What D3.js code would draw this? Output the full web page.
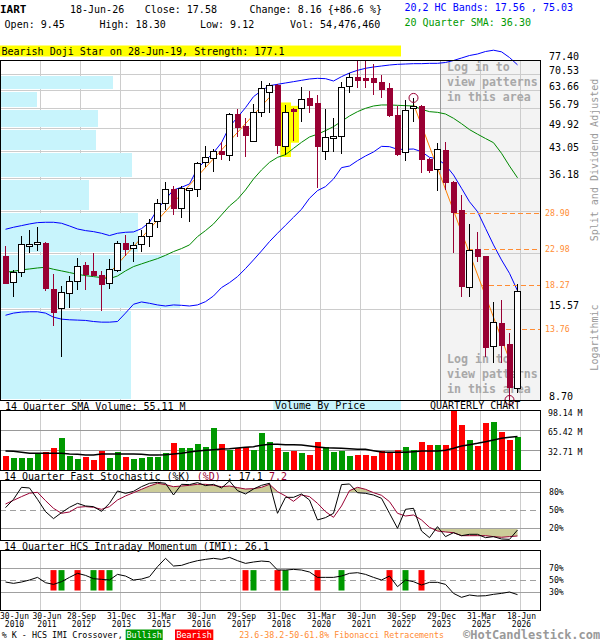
<!DOCTYPE html>
<html><head><meta charset="utf-8">
<script src="https://cdn.jsdelivr.net/npm/d3@7"></script>
<style>body{margin:0;background:#fff}svg{display:block;font-family:'DejaVu Sans Mono','Liberation Mono',monospace}</style>
</head><body><svg id="c" width="600" height="640"></svg>
<script>
const quarters=["Jun-10","Sep-10","Dec-10","Mar-11","Jun-11","Sep-11","Dec-11","Mar-12","Jun-12","Sep-12","Dec-12","Mar-13","Jun-13","Sep-13","Dec-13","Mar-14","Jun-14","Sep-14","Dec-14","Mar-15","Jun-15","Sep-15","Dec-15","Mar-16","Jun-16","Sep-16","Dec-16","Mar-17","Jun-17","Sep-17","Dec-17","Mar-18","Jun-18","Sep-18","Dec-18","Mar-19","Jun-19","Sep-19","Dec-19","Mar-20","Jun-20","Sep-20","Dec-20","Mar-21","Jun-21","Sep-21","Dec-21","Mar-22","Jun-22","Sep-22","Dec-22","Mar-23","Jun-23","Sep-23","Dec-23","Mar-24","Jun-24","Sep-24","Dec-24","Mar-25","Jun-25","Sep-25","Dec-25","Mar-26","Jun-26"];
const open=[21.97,18.50,19.86,23.42,23.83,23.88,17.77,15.69,17.28,18.70,20.73,19.95,19.44,18.42,20.08,23.88,23.03,23.68,24.87,27.39,30.81,33.72,29.84,33.57,33.72,40.09,41.40,43.13,42.12,54.70,50.65,46.08,55.29,62.88,65.92,44.72,56.37,56.73,60.51,58.59,42.94,47.09,47.30,65.21,69.24,68.51,68.80,67.05,64.52,54.36,42.94,56.73,57.59,40.96,38.33,43.41,35.42,29.52,18.04,22.98,21.97,12.26,14.25,12.45,9.45];
const high=[23.42,20.08,24.98,25.96,26.41,24.00,19.56,18.11,19.31,21.69,21.18,22.44,19.95,21.50,24.19,25.14,24.09,25.96,27.80,31.62,35.42,34.45,34.45,34.05,40.26,44.53,43.59,45.79,55.18,56.37,53.21,58.34,67.63,66.63,66.20,57.97,56.73,65.21,63.42,61.82,56.37,53.21,67.34,71.05,77.40,77.00,75.44,70.29,66.63,57.71,59.86,60.66,57.80,41.20,45.49,45.79,35.60,32.51,26.98,25.57,22.00,16.37,16.55,13.37,18.30];
const low=[18.35,16.84,19.15,22.35,22.73,17.54,14.04,11.50,15.75,17.65,17.65,19.31,15.45,17.81,19.82,22.01,21.18,22.59,23.32,26.24,29.52,28.59,28.10,27.39,32.03,38.83,37.76,40.70,40.53,47.09,41.58,45.79,53.55,55.18,42.30,42.03,46.08,52.08,54.94,34.08,40.70,42.94,42.21,62.48,64.52,64.52,61.82,60.76,53.55,41.85,40.53,52.08,37.36,37.36,33.43,33.57,22.35,16.91,16.84,21.09,11.50,11.07,11.02,8.70,9.12];
const close=[18.50,19.78,23.73,23.73,23.98,17.92,15.35,17.39,18.70,20.56,19.52,19.44,18.30,20.16,23.88,22.98,23.52,24.98,27.10,30.81,33.72,29.84,34.01,33.94,39.84,41.40,43.22,42.21,54.70,50.43,47.80,55.53,64.52,65.92,44.82,55.53,55.89,60.12,57.97,44.53,47.09,47.50,64.94,69.24,68.07,68.07,66.91,64.24,54.12,42.30,56.13,57.59,40.96,38.17,43.59,35.42,29.21,18.11,22.83,22.01,12.26,14.34,12.40,9.42,17.58];
const volumeM=[23.76,20.52,20.52,20.52,28.07,30.22,36.69,52.85,23.76,18.90,22.14,17.29,31.84,20.52,30.22,22.14,18.90,20.52,22.14,22.14,28.60,44.77,36.69,36.69,43.16,38.31,69.02,43.16,33.46,36.69,38.31,33.46,60.94,46.39,36.69,30.22,31.84,29.14,25.37,46.39,37.77,30.22,31.84,23.76,25.37,25.37,23.76,31.84,29.14,33.46,38.31,33.46,46.39,41.54,41.54,41.54,98.14,73.87,49.62,39.92,77.11,78.72,62.56,49.62,54.48];
const volSMA=[31.84,31.30,29.68,28.07,28.07,28.07,28.07,28.07,26.99,26.45,25.37,25.37,26.99,26.99,26.99,26.99,26.99,26.45,25.37,25.37,25.91,26.99,28.07,30.22,31.84,32.92,34.00,35.07,35.61,36.69,37.77,38.84,41.00,42.62,42.62,42.08,42.08,41.54,39.92,38.31,37.23,36.69,36.15,35.61,34.53,34.53,32.38,30.22,29.68,29.68,29.68,30.76,31.84,31.84,31.84,32.92,36.15,39.92,42.08,44.23,46.93,49.62,52.32,53.93,55.11];
const upperBand=[26.07,26.41,26.69,26.98,27.21,27.27,27.27,27.10,26.63,26.12,25.85,25.68,25.41,25.04,25.41,25.57,25.63,26.18,27.27,29.65,31.62,33.57,34.15,34.89,38.58,40.53,42.66,45.49,50.43,53.55,56.98,61.15,63.56,65.63,66.20,66.77,67.34,67.92,68.51,68.80,68.65,67.63,69.54,71.20,72.43,73.37,74.00,74.47,74.95,75.27,75.43,75.60,75.60,75.76,75.76,76.17,77.15,78.40,79.67,80.44,81.74,82.43,81.58,78.65,75.03];
const sma20=[19.78,19.90,20.08,20.20,20.33,20.42,20.16,19.95,19.74,19.52,19.35,19.23,19.11,18.98,19.31,19.95,20.51,20.87,21.23,21.59,22.05,22.59,23.03,23.58,24.87,25.85,26.98,28.59,30.29,31.62,33.57,36.02,38.17,40.09,41.40,42.12,43.86,45.59,47.19,48.05,49.15,50.43,52.19,54.01,55.53,56.73,57.59,57.97,57.97,57.84,57.71,57.59,56.37,55.53,55.29,54.70,53.21,51.40,49.48,48.05,46.73,45.49,42.49,39.15,36.30];
const lowerBand=[15.00,15.21,15.31,15.34,15.34,15.21,14.82,14.63,14.57,14.54,14.51,14.41,14.35,14.35,14.41,15.21,16.10,16.34,16.20,16.03,15.92,16.03,15.99,15.92,16.03,16.37,16.98,17.92,18.50,19.23,20.25,21.41,22.68,24.09,25.41,26.75,28.16,29.65,31.82,33.43,34.30,36.02,38.75,39.15,40.53,41.76,42.85,44.43,44.34,43.59,43.59,43.68,42.94,41.40,40.96,39.41,36.96,33.94,31.12,29.21,26.24,23.58,21.41,19.64,17.56];
const stochK=[54.4,68.3,88.3,87.2,68.3,47.8,36.1,46.1,55.0,61.6,57.2,56.1,48.3,61.6,82.2,78.3,81.6,89.4,95.0,96.6,95.0,75.5,93.3,92.8,96.1,91.1,93.3,87.2,98.9,82.8,77.2,85.5,91.6,95.0,45.0,71.6,71.6,77.2,67.2,33.9,37.8,45.0,92.8,93.9,79.4,78.3,75.5,70.0,45.0,20.0,51.6,53.3,15.5,4.4,22.8,6.1,12.7,7.7,10.0,10.0,4.4,6.1,2.2,1.6,17.1];
const stochD=[60.5,66.6,72.8,78.5,80.0,66.1,53.3,45.0,47.2,55.0,56.1,55.0,51.6,56.1,67.2,73.9,79.4,85.0,90.5,95.0,92.8,89.4,90.5,91.6,93.3,93.3,91.6,89.4,90.5,87.8,85.5,86.1,88.3,93.3,81.1,73.9,65.0,75.5,72.8,61.6,47.8,38.3,57.2,82.8,88.3,85.0,79.4,75.0,64.4,45.0,40.5,42.2,33.9,21.6,15.5,13.9,12.7,7.7,7.7,7.7,7.7,6.1,5.0,6.1,7.2];
const imi=[47.1,44.9,47.1,50.5,54.9,46.0,43.2,47.7,54.9,61.6,58.2,52.7,51.6,50.5,59.9,57.1,50.5,52.1,56.0,72.7,86.6,73.8,74.9,79.3,82.7,84.9,86.6,84.9,88.2,82.7,78.2,80.5,82.1,81.0,67.1,67.1,68.2,67.1,63.8,54.9,54.9,54.9,57.1,61.6,62.7,59.9,54.9,50.5,57.1,39.4,50.5,47.7,42.1,46.6,46.6,43.2,28.2,21.6,25.5,23.8,24.3,26.6,28.2,30.5,26.1];
const bearishCross=[6,9,12,30,34,39,48,52];
const bullishCross=[7,11,13,31,35,42,50];
const priceGrid=[8.70,15.57,22.44,29.31,36.18,43.05,49.92,56.79,63.66,70.53,77.40];
const priceLabels=["8.70","15.57","","","36.18","43.05","49.92","56.79","63.66","70.53","77.40"];
const vbpVolume=[650,895,683,438,655,475,483,178,558,0];
const volTicks=[32.71,65.42,98.14];
const stochTicks=[20,50,80];
const imiTicks=[30,50,70];
const fibLevels=[28.90,22.98,18.27,13.76];
const fibLine={i0:51,p0:58.34,i1:63,p1:11.26};
const trendLine={i0:12,p0:18.61,i1:33,p1:60.91};
const highMark={i:51,p:60.66}, lowMark={i:63,p:8.70};
const patternIdx=[35,36];
const dateTickIdx=[0,4,9,14,19,24,29,34,39,44,49,54,59,64];
const dateTickDay=["30-Jun","30-Jun","28-Sep","31-Dec","31-Mar","30-Jun","29-Sep","31-Dec","31-Mar","30-Jun","30-Sep","29-Dec","31-Mar","18-Jun"];
const dateTickYear=["2010","2011","2012","2013","2015","2016","2017","2018","2020","2021","2022","2023","2025","2026"];

const svg=d3.select('#c');
const xs=d3.scalePoint().domain(quarters).range([4.7,516.7]);
const X=i=>Math.round(xs(quarters[i]));
const yP=d3.scaleLog().domain([8.70,77.40]).range([400,60]);
const yV=d3.scaleLinear().domain([0,98.14]).range([470.7,410]);
const yS=d3.scaleLinear().domain([0,100]).range([540.3,480.3]);
const yI=d3.scaleLinear().domain([0,100]).range([610.3,550.3]);
const xVBP=d3.scaleLinear().domain([0,2700]).range([0,540]);
const gridX=dateTickIdx.slice(1).map(i=>Math.round(xs(quarters[i])+3.3)+0.5);
const BEAR='#990033', ORANGE='#ff8000';

function T(x,y,s,o={}){return svg.append('text').attr('x',x).attr('y',y).attr('dominant-baseline','central')
 .attr('font-size',o.size||10).attr('fill',o.fill||'#000').attr('font-weight',o.bold?'bold':null)
 .attr('text-anchor',o.anchor||'start').attr('transform',o.rot?`rotate(-90 ${x} ${y})`:null).text(s);}
function hline(y,x0,x1,col,dash){svg.append('line').attr('x1',x0).attr('x2',x1).attr('y1',Math.round(y)+0.5).attr('y2',Math.round(y)+0.5)
 .attr('stroke',col).attr('stroke-dasharray',dash||null).attr('shape-rendering','crispEdges');}
function vgrid(y0,y1){gridX.forEach(x=>svg.append('line').attr('x1',x).attr('x2',x).attr('y1',y0).attr('y2',y1).attr('stroke','#cccccc').attr('shape-rendering','crispEdges'));}
function frame(y0,y1){svg.append('rect').attr('x',0.5).attr('y',y0+0.5).attr('width',540).attr('height',y1-y0).attr('fill','none').attr('stroke','#000').attr('shape-rendering','crispEdges');}

// ---------- header ----------
T(0,9,"IART",{bold:true,size:11});
T(70,9,"18-Jun-26");
T(144.7,9,"Close: 17.58");
T(249.5,9,"Change: 8.16 {+86.6 %}");
T(4.6,24,"Open: 9.45");
T(99.5,24,"High: 18.30");
T(200,24,"Low: 9.12");
T(290,24,"Vol: 54,476,460");
T(404.5,7,"20,2 HC Bands: 17.56 , 75.03",{fill:'#0000ff'});
T(404.5,22.5,"20 Quarter SMA: 36.30",{fill:'#009900'});
svg.append('rect').attr('x',0).attr('y',45.5).attr('width',401).attr('height',11).attr('fill','#ffff00');
T(1.5,51,"Bearish Doji Star on 28-Jun-19, Strength: 177.1");

// ---------- main price panel ----------
svg.append('rect').attr('x',440).attr('y',60).attr('width',100).attr('height',340).attr('fill','#f3f3f3');
vgrid(60,400);
priceGrid.forEach(p=>{const y=yP(p); if(y>61&&y<399) hline(y,0,540,'#cccccc');});
// volume by price
vbpVolume.forEach((v,k)=>{ if(v<=0) return; const yt=Math.round(yP(priceGrid[k+1]))+2, yb=Math.round(yP(priceGrid[k]))-1;
 svg.append('rect').attr('x',1).attr('y',yt).attr('width',xVBP(v)).attr('height',yb-yt).attr('fill','#c8f4fc').attr('shape-rendering','crispEdges');});
svg.append('line').attr('x1',440.5).attr('x2',440.5).attr('y1',60).attr('y2',400).attr('stroke','#999').attr('shape-rendering','crispEdges');
["Log in to","view patterns","in this area"].forEach((s,k)=>{T(447,66.7+15*k,s,{bold:true,size:11.6,fill:'#a8a8a8'});T(447,359+15*k,s,{bold:true,size:11.6,fill:'#a8a8a8'});});
// pattern highlight
patternIdx.forEach(i=>{const cx=X(i)+0.5;svg.append('rect').attr('x',cx-5).attr('width',10.5).attr('y',yP(high[i])-2.5).attr('height',yP(low[i])-yP(high[i])+4.5).attr('fill','#ffff00');});
// bands
const lineP=d3.line().x((d,i)=>X(i)+0.5).y(d=>yP(d));
svg.append('path').datum(upperBand).attr('d',lineP).attr('fill','none').attr('stroke','#0000ff').attr('stroke-width',1);
svg.append('path').datum(lowerBand).attr('d',lineP).attr('fill','none').attr('stroke','#0000ff').attr('stroke-width',1);
svg.append('path').datum(sma20).attr('d',lineP).attr('fill','none').attr('stroke','#008800').attr('stroke-width',1);
// trend line & fib
svg.append('line').attr('x1',X(trendLine.i0)+0.5).attr('y1',yP(trendLine.p0)).attr('x2',X(trendLine.i1)+0.5).attr('y2',yP(trendLine.p1)).attr('stroke',ORANGE);
const fx0=X(fibLine.i0)+0.5, fy0=yP(fibLine.p0), fx1=X(fibLine.i1)+0.5, fy1=yP(fibLine.p1);
svg.append('line').attr('x1',fx0).attr('y1',fy0).attr('x2',fx1).attr('y2',fy1).attr('stroke',ORANGE);
fibLevels.forEach(L=>{const y=yP(L); const xc=fx0+(y-fy0)/(fy1-fy0)*(fx1-fx0);
 hline(y,xc,540,'#ff8c33','5,3'); T(545,y,L.toFixed(2),{size:8.2,fill:'#ff8c33'});});
// candles
quarters.forEach((q,i)=>{const cx=X(i), bull=close[i]>=open[i], col=bull?'#000':BEAR;
 svg.append('line').attr('x1',cx+0.5).attr('x2',cx+0.5).attr('y1',yP(high[i])).attr('y2',yP(low[i])).attr('stroke',col).attr('shape-rendering','crispEdges');
 let yt=yP(Math.max(open[i],close[i])), yb=yP(Math.min(open[i],close[i]));
 if(yb-yt<2){const m=(yt+yb)/2;yt=m-1;yb=m+1;}
 if(bull) svg.append('rect').attr('x',cx-2.5).attr('y',Math.round(yt)+0.5).attr('width',6).attr('height',Math.max(1,Math.round(yb-yt))).attr('fill','#fff').attr('stroke','#000').attr('shape-rendering','crispEdges');
 else svg.append('rect').attr('x',cx-2).attr('y',Math.round(yt)).attr('width',5).attr('height',Math.max(1,Math.round(yb-yt))).attr('fill',BEAR).attr('stroke',BEAR).attr('shape-rendering','crispEdges');
});
[highMark,lowMark].forEach(m=>svg.append('circle').attr('cx',X(m.i)+0.5).attr('cy',yP(m.p)).attr('r',4.5).attr('fill','none').attr('stroke',BEAR));
frame(60,400);
// price labels
priceGrid.forEach((p,k)=>{ if(priceLabels[k]) T(549,yP(p)-3.5,priceLabels[k]);});
T(594,160,"Split and Dividend Adjusted",{rot:true,anchor:'middle',fill:'#999'});
T(594,337.5,"Logarithmic",{rot:true,anchor:'middle',fill:'#999'});

// ---------- volume ----------
T(5,406,"14 Quarter SMA Volume: 55.11 M");
svg.append('rect').attr('x',273.3).attr('y',401).attr('width',127.7).attr('height',9).attr('fill','#c8f4fc');
T(275,405.5,"Volume By Price");
T(430,405.5,"QUARTERLY CHART");
vgrid(410,470);
volTicks.slice(0,2).forEach(v=>hline(yV(v),0,540,'#999'));
volumeM.forEach((v,i)=>{const cx=X(i);svg.append('rect').attr('x',cx-2.5).attr('y',yV(v)).attr('width',6).attr('height',470.7-yV(v))
 .attr('fill',close[i]>=open[i]?'#009900':'#ff0000').attr('shape-rendering','crispEdges');});
svg.append('path').datum(volSMA).attr('d',d3.line().x((d,i)=>X(i)+0.5).y(d=>yV(d))).attr('fill','none').attr('stroke','#000').attr('stroke-width',1.5);
frame(410,470);
volTicks.forEach(v=>T(548,Math.max(413.3,yV(v)+1.6),v.toFixed(2)+" M",{size:8.2}));

// ---------- stochastic ----------
const st=T(4,476,"");
st.append('tspan').text("14 Quarter Fast Stochastic (%K) ");
st.append('tspan').attr('fill',BEAR).text("(%D)");
st.append('tspan').text(" : 17.1 ");
st.append('tspan').attr('fill',BEAR).text("7.2");
vgrid(480,540);
const defs=svg.append('defs');
defs.append('clipPath').attr('id','a80').append('rect').attr('x',0).attr('y',478).attr('width',541).attr('height',yS(80)-478);
defs.append('clipPath').attr('id','b20').append('rect').attr('x',0).attr('y',yS(20)).attr('width',541).attr('height',545-yS(20));
svg.append('path').datum(stochD).attr('d',d3.area().x((d,i)=>X(i)+0.5).y0(yS(80)).y1(d=>yS(d))).attr('fill','#cccc99').attr('clip-path','url(#a80)');
svg.append('path').datum(stochD).attr('d',d3.area().x((d,i)=>X(i)+0.5).y0(yS(20)).y1(d=>yS(d))).attr('fill','#cccc99').attr('clip-path','url(#b20)');
stochTicks.forEach(v=>hline(yS(v),0,540,'#a0a0a0',v===50?'6,4':null));
const lineS=d3.line().x((d,i)=>X(i)+0.5).y(d=>yS(d));
svg.append('path').datum(stochD).attr('d',lineS).attr('fill','none').attr('stroke',BEAR);
svg.append('path').datum(stochK).attr('d',lineS).attr('fill','none').attr('stroke','#000');
frame(480,540);
stochTicks.forEach(v=>T(549,yS(v),v+"%",{size:8.2}));

// ---------- IMI ----------
T(4,546,"14 Quarter HCS Intraday Momentum (IMI): 26.1");
vgrid(550,610);
imiTicks.forEach(v=>hline(yI(v),0,540,'#a0a0a0',v===50?'6,4':null));
bearishCross.forEach(i=>svg.append('rect').attr('x',X(i)-2.5).attr('y',yI(67)).attr('width',6).attr('height',yI(33)-yI(67)).attr('fill','#ff0000'));
bullishCross.forEach(i=>svg.append('rect').attr('x',X(i)-2.5).attr('y',yI(67)).attr('width',6).attr('height',yI(33)-yI(67)).attr('fill','#009900'));
svg.append('path').datum(imi).attr('d',d3.line().x((d,i)=>X(i)+0.5).y(d=>yI(d))).attr('fill','none').attr('stroke','#000');
frame(550,610);
imiTicks.forEach(v=>T(549,yI(v),v+"%",{size:8.2}));

// ---------- date labels ----------
let prevRight=-10;
dateTickIdx.forEach((i,k)=>{const gx=xs(quarters[i])+3.3+1.5, hw=14.5;
 const left=Math.max(0,gx-hw,prevRight+3.5); const c=left+hw; prevRight=left+2*hw;
 T(c,616,dateTickDay[k],{size:8,anchor:'middle'}); T(c,624,dateTickYear[k],{size:8,anchor:'middle'});});

// ---------- legend ----------
T(1.7,634.7,"% K - HCS IMI Crossover,",{size:8.4});
svg.append('rect').attr('x',125.7).attr('y',629.5).attr('width',37).attr('height',10.5).attr('fill','#009900');
T(144.2,634.7,"Bullish",{size:8.4,fill:'#fff',anchor:'middle'});
svg.append('rect').attr('x',175).attr('y',629.5).attr('width',38.3).attr('height',10.5).attr('fill','#ff0000');
T(194.1,634.7,"Bearish",{size:8.4,fill:'#fff',anchor:'middle'});
T(239.3,634.7,"23.6-38.2-50-61.8% Fibonacci Retracements",{size:8.3,fill:'#ff8c33'});
T(463,634.5,"©HotCandlestick.com",{size:12,bold:true,fill:'#999'});
</script></body></html>
